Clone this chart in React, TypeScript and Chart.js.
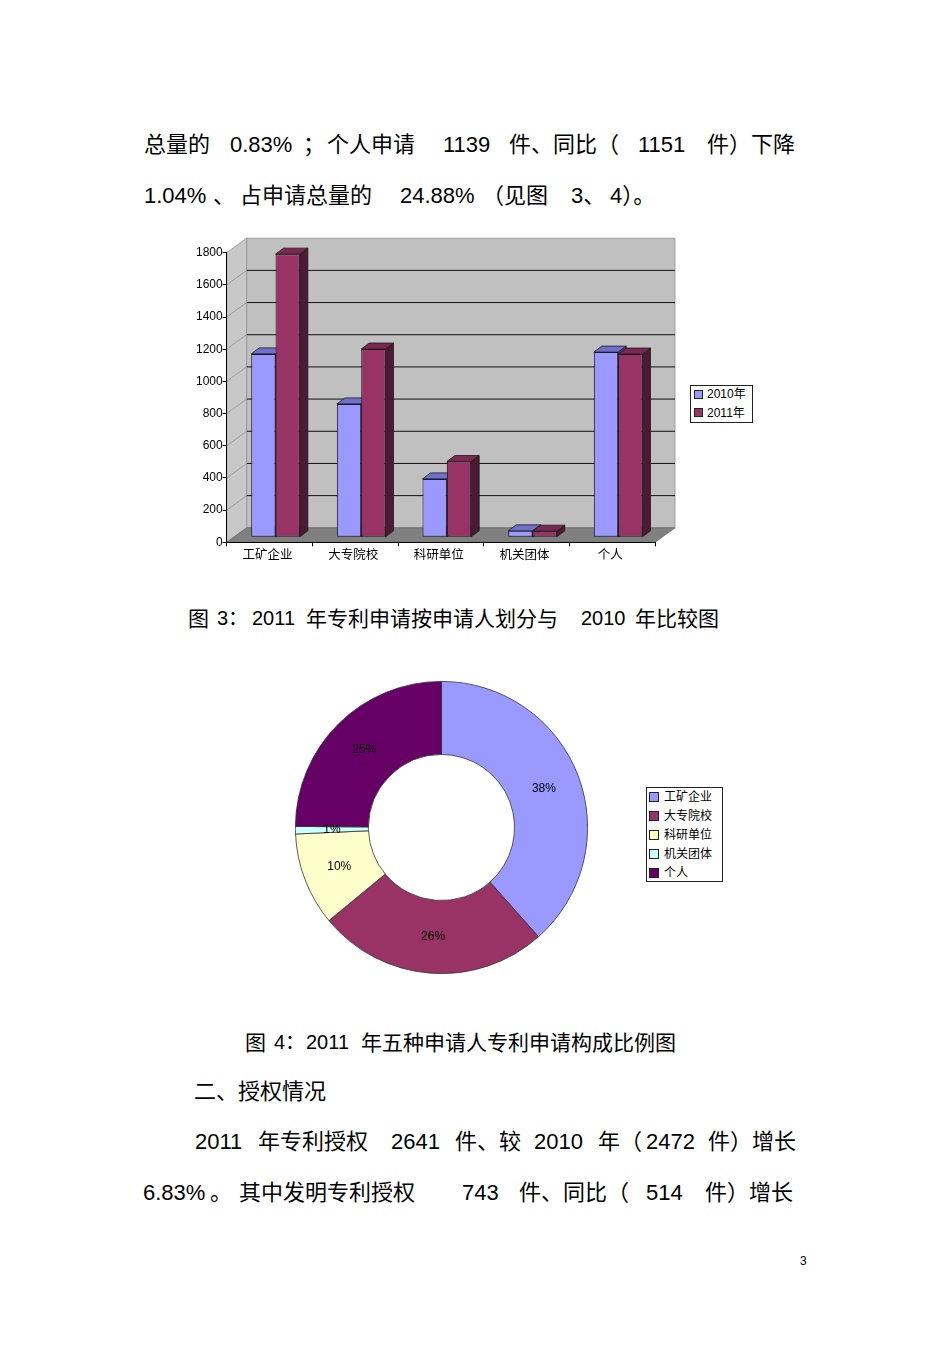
import React, { useEffect, useRef } from "react";
import { Chart, registerables } from "chart.js";

Chart.register(...registerables);

// ---------- data ----------
const categories = ["工矿企业", "大专院校", "科研单位", "机关团体", "个人"];
const series2010 = [1140, 829, 363, 40, 1151];
const series2011 = [1760, 1170, 471, 38, 1139];
const seriesLabels = ["2010年", "2011年"];
const yMax = 1800;
const yStep = 200;

// ---------- styles ----------
const barFront = ["#9999FF", "#993366"];
const barTop = ["#6F6FCC", "#7A2952"];
const barSide = ["#4E4E99", "#4D1A33"];
const pieColors = ["#9999FF", "#993366", "#FFFFCC", "#CCFFFF", "#660066"];

const CJK = '"Liberation Sans", "Noto Sans CJK SC", sans-serif';
const CJK_ONLY = '"Noto Sans CJK SC", sans-serif';

// 3D geometry (pixels)
const WALL = { dx: 20, dy: -14.5 };
const BARSHIFT = { dx: 6, dy: -5 };
const DEPTH = { dx: 8, dy: -6 };

function poly(ctx: CanvasRenderingContext2D, pts: number[][], fill: string, stroke?: string, lw = 1) {
  ctx.beginPath();
  ctx.moveTo(pts[0][0], pts[0][1]);
  for (let i = 1; i < pts.length; i++) ctx.lineTo(pts[i][0], pts[i][1]);
  ctx.closePath();
  ctx.fillStyle = fill;
  ctx.fill();
  if (stroke) {
    ctx.strokeStyle = stroke;
    ctx.lineWidth = lw;
    ctx.stroke();
  }
}

const threeD = {
  id: "threeD",
  beforeDraw(chart: any) {
    const { ctx, chartArea: a, scales } = chart;
    const y = scales.y;
    ctx.save();
    // left wall
    poly(ctx, [[a.left, a.top], [a.left + WALL.dx, a.top + WALL.dy], [a.left + WALL.dx, a.bottom + WALL.dy], [a.left, a.bottom]], "#C8C8C8", "#909090", 0.8);
    // back wall
    poly(ctx, [[a.left + WALL.dx, a.top + WALL.dy], [a.right + WALL.dx, a.top + WALL.dy], [a.right + WALL.dx, a.bottom + WALL.dy], [a.left + WALL.dx, a.bottom + WALL.dy]], "#C0C0C0", "#909090", 0.8);
    // floor
    poly(ctx, [[a.left, a.bottom], [a.left + WALL.dx, a.bottom + WALL.dy], [a.right + WALL.dx, a.bottom + WALL.dy], [a.right, a.bottom]], "#808080", "#6a6a6a", 0.8);
    // gridlines
    for (let v = yStep; v < yMax; v += yStep) {
      const py = y.getPixelForValue(v);
      ctx.beginPath();
      ctx.moveTo(a.left + WALL.dx, py + WALL.dy);
      ctx.lineTo(a.right + WALL.dx, py + WALL.dy);
      ctx.strokeStyle = "#111";
      ctx.lineWidth = 1;
      ctx.stroke();
      ctx.beginPath();
      ctx.moveTo(a.left, py);
      ctx.lineTo(a.left + WALL.dx, py + WALL.dy);
      ctx.strokeStyle = "#9a9a9a";
      ctx.stroke();
    }
    ctx.restore();
  },
  beforeDatasetsDraw(chart: any) {
    const { ctx } = chart;
    ctx.save();
    chart.data.datasets.forEach((ds: any, di: number) => {
      const meta = chart.getDatasetMeta(di);
      meta.data.forEach((el: any) => {
        const p = el.getProps(["x", "y", "base", "width"], true);
        const l = p.x - p.width / 2 + BARSHIFT.dx;
        const r = p.x + p.width / 2 + BARSHIFT.dx;
        const t = p.y + BARSHIFT.dy;
        const b = p.base + BARSHIFT.dy;
        poly(ctx, [[r, t], [r + DEPTH.dx, t + DEPTH.dy], [r + DEPTH.dx, b + DEPTH.dy], [r, b]], barSide[di], "#1a1a1a", 0.8);
        poly(ctx, [[l, t], [l + DEPTH.dx, t + DEPTH.dy], [r + DEPTH.dx, t + DEPTH.dy], [r, t]], barTop[di], "#1a1a1a", 0.8);
      });
    });
    ctx.restore();
    ctx.save();
    ctx.translate(BARSHIFT.dx, BARSHIFT.dy);
  },
  afterDatasetsDraw(chart: any) {
    chart.ctx.restore();
  },
};

const pieLabels = {
  id: "pieLabels",
  afterDatasetsDraw(chart: any) {
    const { ctx } = chart;
    const data: number[] = chart.data.datasets[0].data;
    const total = data.reduce((s, v) => s + v, 0);
    const meta = chart.getDatasetMeta(0);
    ctx.save();
    ctx.font = '12px "Liberation Sans", sans-serif';
    ctx.fillStyle = "#000";
    ctx.textAlign = "center";
    ctx.textBaseline = "middle";
    meta.data.forEach((el: any, i: number) => {
      const c = el.getCenterPoint();
      ctx.fillText(Math.round((data[i] / total) * 100) + "%", c.x, c.y);
    });
    ctx.restore();
  },
};

function BarChart() {
  const ref = useRef<HTMLCanvasElement>(null);
  useEffect(() => {
    const chart = new Chart(ref.current!, {
      type: "bar",
      data: {
        labels: categories,
        datasets: [
          { label: seriesLabels[0], data: series2010, backgroundColor: barFront[0], borderColor: "#1a1a1a", borderWidth: 1, borderSkipped: false },
          { label: seriesLabels[1], data: series2011, backgroundColor: barFront[1], borderColor: "#1a1a1a", borderWidth: 1, borderSkipped: false },
        ],
      },
      options: {
        responsive: false,
        animation: false,
        devicePixelRatio: 1,
        layout: { padding: { left: 0, top: 22.7, right: 115, bottom: 0 } },
        datasets: { bar: { categoryPercentage: 0.568, barPercentage: 1 } },
        plugins: { legend: { display: false }, tooltip: { enabled: false } },
        scales: {
          x: {
            afterFit: (s: any) => { s.height = 32.7; },
            grid: { drawOnChartArea: false, offset: true, tickColor: "#000", tickLength: 4 },
            border: { color: "#000", width: 1 },
            ticks: { font: { family: CJK_ONLY, size: 12.5 }, color: "#000", padding: 0, maxRotation: 0, labelOffset: -2 },
          },
          y: {
            min: 0,
            max: yMax,
            afterFit: (s: any) => { s.width = 46.7; },
            grid: { drawOnChartArea: false, tickColor: "#000", tickLength: 4 },
            border: { color: "#000", width: 1 },
            ticks: { stepSize: yStep, font: { family: '"Liberation Sans", sans-serif', size: 12 }, color: "#000", padding: 0, callback: (v: any) => String(v) },
          },
        },
      } as any,
      plugins: [threeD],
    });
    return () => chart.destroy();
  }, []);
  return <canvas ref={ref} width={590} height={345} style={{ position: "absolute", left: 180, top: 230, width: 590, height: 345 }} />;
}

function PieChart() {
  const ref = useRef<HTMLCanvasElement>(null);
  useEffect(() => {
    const chart = new Chart(ref.current!, {
      type: "doughnut",
      data: {
        labels: categories,
        datasets: [{ data: series2011, backgroundColor: pieColors, borderColor: "#333", borderWidth: 0.8 }],
      },
      options: {
        responsive: false,
        animation: false,
        devicePixelRatio: 1,
        cutout: "50%",
        layout: { padding: 0 },
        plugins: { legend: { display: false }, tooltip: { enabled: false } },
      } as any,
      plugins: [pieLabels],
    });
    return () => chart.destroy();
  }, []);
  return <canvas ref={ref} width={293} height={293} style={{ position: "absolute", left: 294.5, top: 681, width: 293, height: 293 }} />;
}

function T({ x, y, size = 22, children }: { x: number; y: number; size?: number; children: any }) {
  return (
    <span style={{ position: "absolute", left: x, top: y - size * 0.48, fontSize: size, lineHeight: size + "px", whiteSpace: "pre", fontFamily: CJK, color: "#000" }}>
      {children}
    </span>
  );
}

function Legend({ left, top, width, height, items, colors, rowY, sq, textX, sqX }: any) {
  return (
    <>
      <div style={{ position: "absolute", left, top, width, height, border: "1px solid #222", background: "#fff", boxSizing: "border-box" }} />
      {items.map((it: string, i: number) => (
        <React.Fragment key={it}>
          <div style={{ position: "absolute", left: sqX, top: rowY[i] - sq / 2, width: sq, height: sq, background: colors[i], border: "1px solid #222", boxSizing: "border-box" }} />
          <span style={{ position: "absolute", left: textX, top: rowY[i] - 8, fontSize: 12, lineHeight: "16px", fontFamily: CJK, whiteSpace: "pre", color: "#000" }}>{it}</span>
        </React.Fragment>
      ))}
    </>
  );
}

export default function App() {
  return (
    <div style={{ position: "absolute", left: 0, top: 0, width: 950, height: 1345, background: "#fff", overflow: "hidden" }}>
      {/* paragraph lines */}
      <T x={144} y={145}>总量的</T>
      <T x={230} y={145}>0.83%</T>
      <T x={303} y={145}>；</T>
      <T x={327} y={145}>个人申请</T>
      <T x={443} y={145}>1139</T>
      <T x={509} y={145}>件、同比（</T>
      <T x={638} y={145}>1151</T>
      <T x={707} y={145}>件）下降</T>

      <T x={144} y={196}>1.04%</T>
      <T x={213} y={196}>、</T>
      <T x={240} y={196}>占申请总量的</T>
      <T x={400} y={196}>24.88%</T>
      <T x={482} y={196}>（见图</T>
      <T x={571} y={196}>3、</T>
      <T x={610} y={196}>4）。</T>

      <BarChart />
      <Legend left={690} top={385} width={63} height={38} items={seriesLabels} colors={barFront} rowY={[394.3, 412.7]} sq={9} sqX={694} textX={707} />

      <T x={188} y={618} size={21}>图</T>
      <T x={217} y={618} size={20}>3：</T>
      <T x={252} y={618} size={20}>2011</T>
      <T x={306} y={618} size={21}>年专利申请按申请人划分与</T>
      <T x={581} y={618} size={20}>2010</T>
      <T x={635} y={618} size={21}>年比较图</T>

      <PieChart />
      <Legend left={646} top={787} width={77} height={95} items={categories} colors={pieColors} rowY={[796.7, 815.7, 834.7, 853.7, 872.7]} sq={10} sqX={649} textX={664} />

      <T x={245} y={1042} size={21}>图</T>
      <T x={274} y={1042} size={20}>4：</T>
      <T x={306} y={1042} size={20}>2011</T>
      <T x={361} y={1042} size={21}>年五种申请人专利申请构成比例图</T>

      <T x={194} y={1092}>二、授权情况</T>

      <T x={195} y={1142}>2011</T>
      <T x={258} y={1142}>年专利授权</T>
      <T x={391} y={1142}>2641</T>
      <T x={455} y={1142}>件、较</T>
      <T x={534} y={1142}>2010</T>
      <T x={598} y={1142}>年（</T>
      <T x={646} y={1142}>2472</T>
      <T x={708} y={1142}>件）增长</T>

      <T x={143} y={1193}>6.83%</T>
      <T x={210} y={1193}>。</T>
      <T x={239} y={1193}>其中发明专利授权</T>
      <T x={462} y={1193}>743</T>
      <T x={519} y={1193}>件、同比（</T>
      <T x={646} y={1193}>514</T>
      <T x={705} y={1193}>件）增长</T>

      <T x={800} y={1261} size={12}>3</T>
    </div>
  );
}
